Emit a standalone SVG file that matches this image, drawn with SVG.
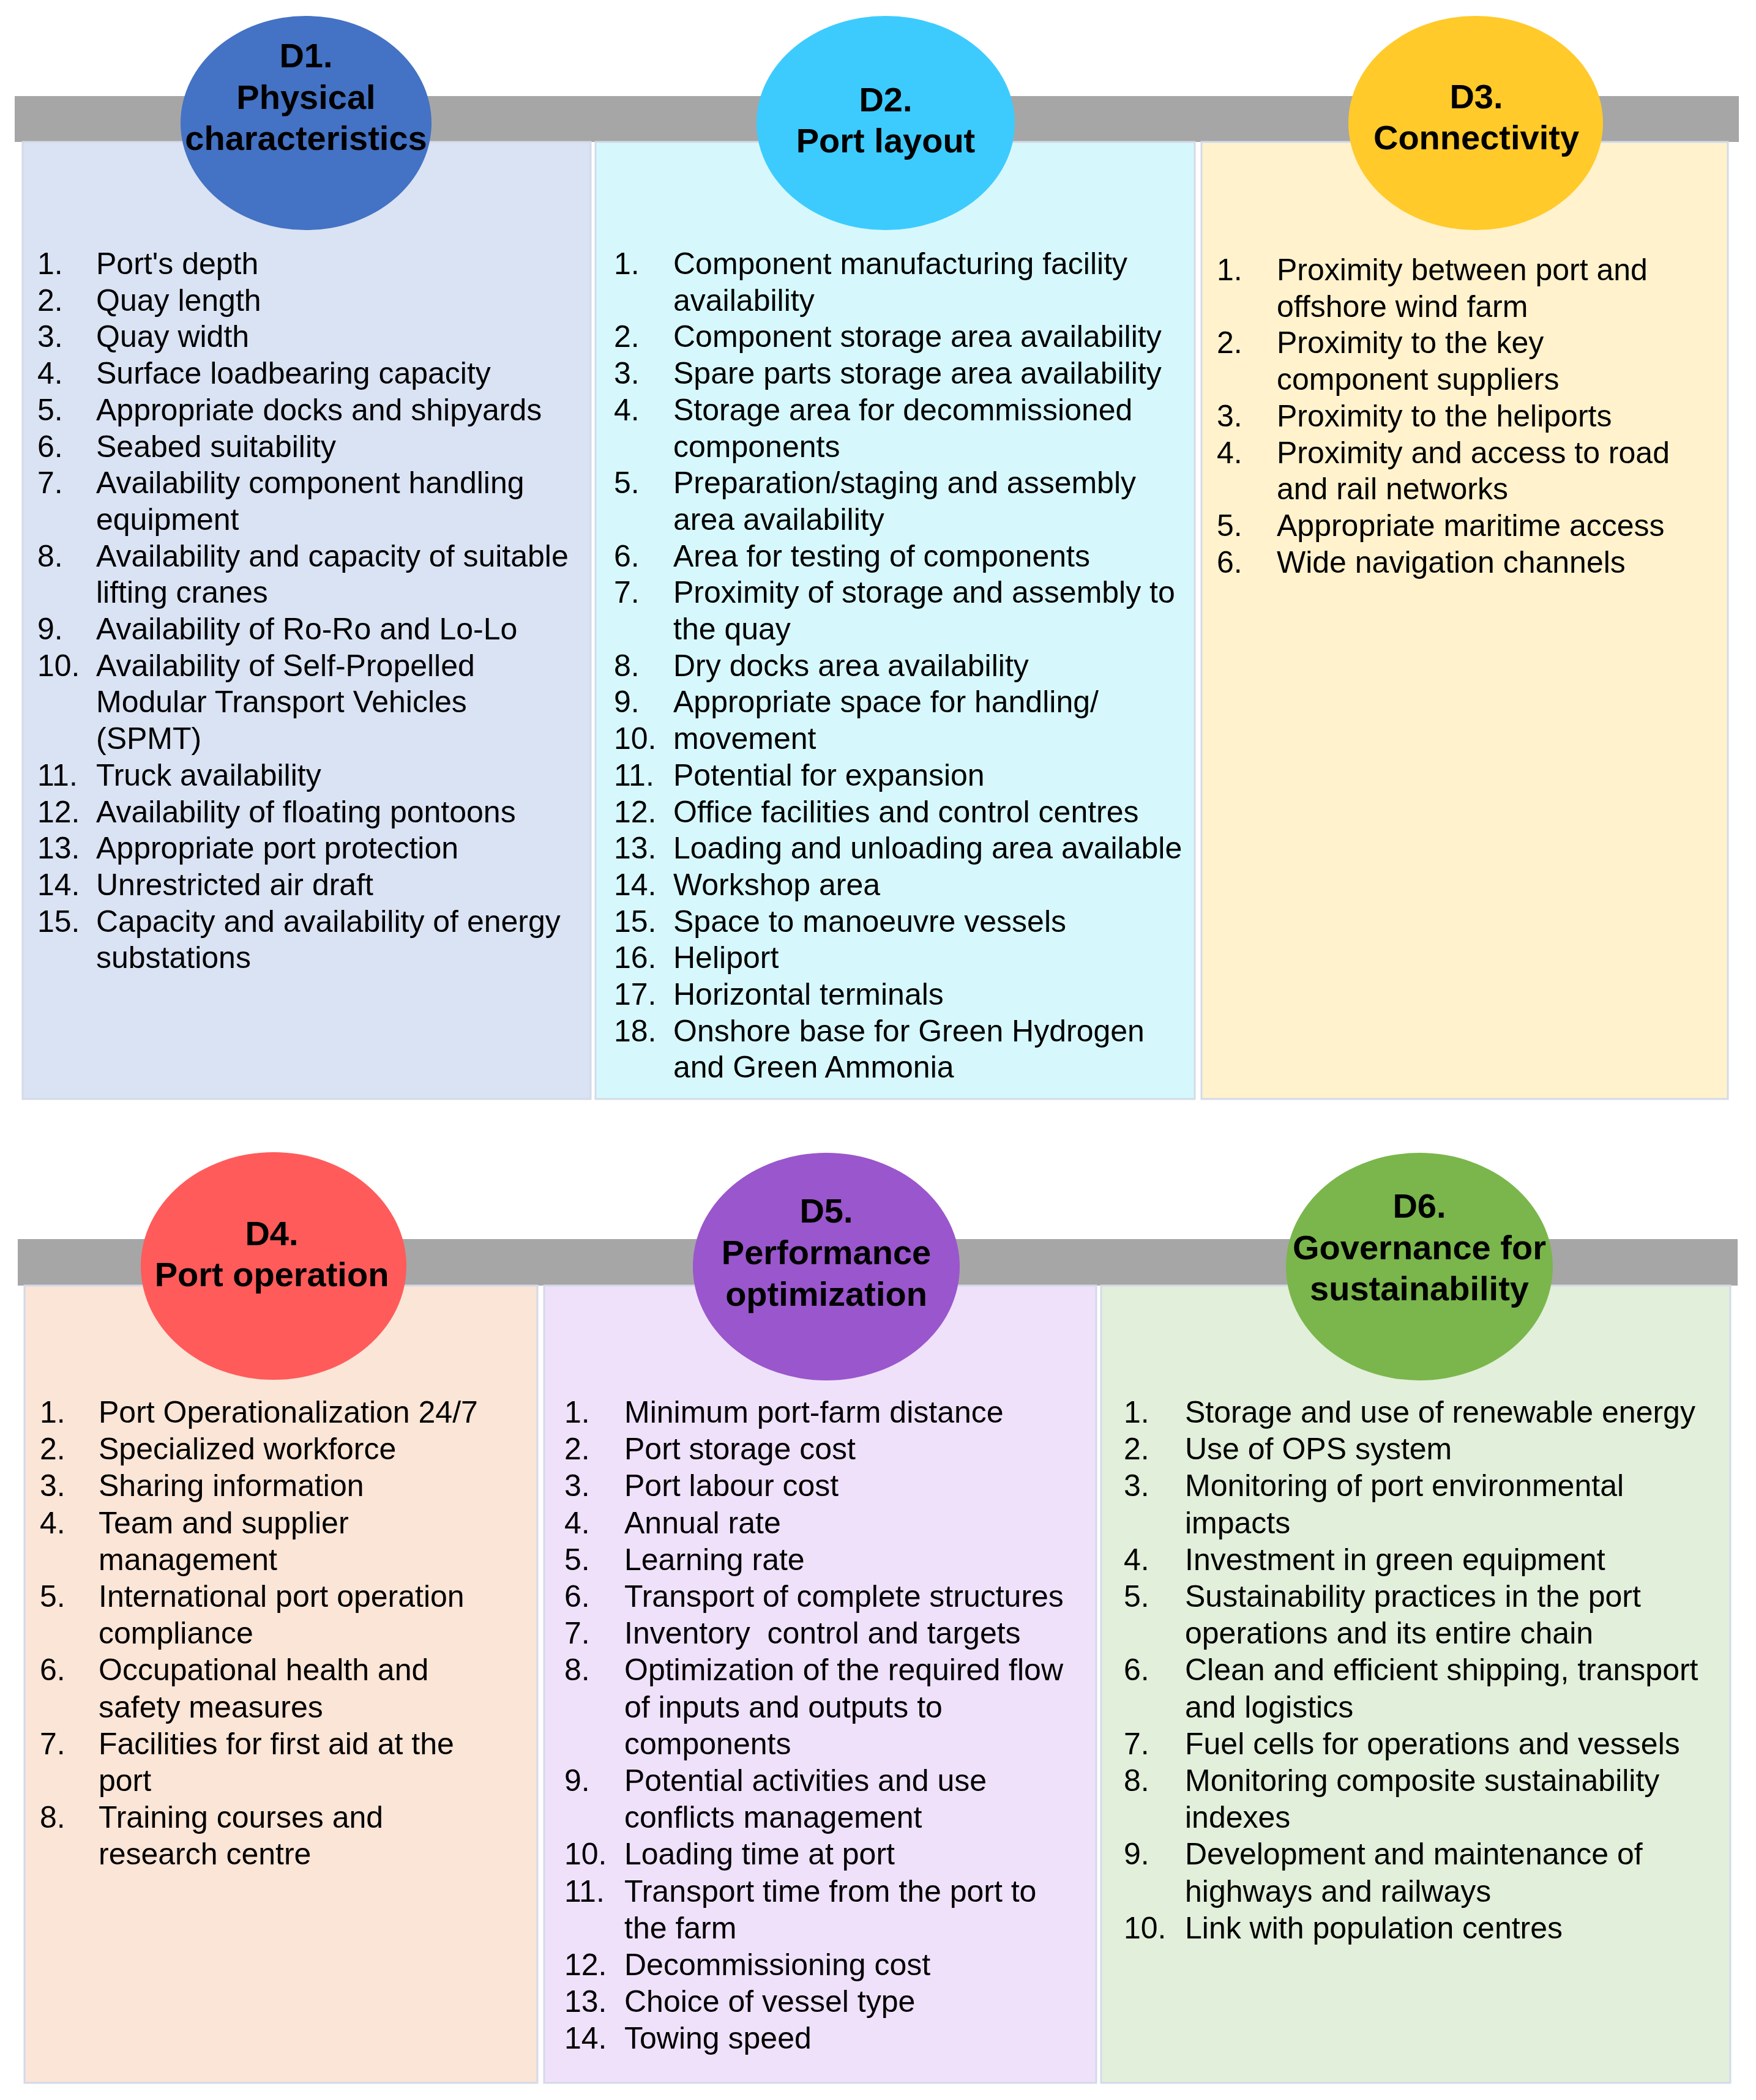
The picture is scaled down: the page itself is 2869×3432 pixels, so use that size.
<svg xmlns="http://www.w3.org/2000/svg" width="2869" height="3432" viewBox="0 0 2869 3432">
<style>
.bar{fill:#A6A6A6}
.panel{stroke:#D3DAE8;stroke-width:3}
.t{font-family:"Liberation Sans",Arial,sans-serif;font-weight:bold;font-size:56px;fill:#000;text-anchor:middle}
.i{font-family:"Liberation Sans",Arial,sans-serif;font-size:50px;fill:#000}
.pre{white-space:pre}
</style>
<rect width="2869" height="3432" fill="#FFFFFF"/>
<g id="connectors">
<rect class="bar" x="24" y="157" width="2817" height="75"/>
<rect class="bar" x="29" y="2025" width="2810" height="76"/>
</g>
<g id="d1">
<rect class="panel" x="37" y="232" width="928" height="1564" fill="#DAE3F3"/>
<ellipse cx="500" cy="201" rx="205" ry="175" fill="#4472C4"/>
<text class="t" x="500" y="110">D1.</text>
<text class="t" x="500" y="178">Physical</text>
<text class="t" x="500" y="245">characteristics</text>
<g class="i">
<text x="61" y="448">1.</text><text x="157" y="448">Port's depth</text>
<text x="61" y="508">2.</text><text x="157" y="508">Quay length</text>
<text x="61" y="567">3.</text><text x="157" y="567">Quay width</text>
<text x="61" y="627">4.</text><text x="157" y="627">Surface loadbearing capacity</text>
<text x="61" y="687">5.</text><text x="157" y="687">Appropriate docks and shipyards</text>
<text x="61" y="747">6.</text><text x="157" y="747">Seabed suitability</text>
<text x="61" y="806">7.</text><text x="157" y="806">Availability component handling</text>
<text x="157" y="866">equipment</text>
<text x="61" y="926">8.</text><text x="157" y="926">Availability and capacity of suitable</text>
<text x="157" y="985">lifting cranes</text>
<text x="61" y="1045">9.</text><text x="157" y="1045">Availability of Ro-Ro and Lo-Lo</text>
<text x="61" y="1105">10.</text><text x="157" y="1105">Availability of Self-Propelled</text>
<text x="157" y="1164">Modular Transport Vehicles</text>
<text x="157" y="1224">(SPMT)</text>
<text x="61" y="1284">11.</text><text x="157" y="1284">Truck availability</text>
<text x="61" y="1344">12.</text><text x="157" y="1344">Availability of floating pontoons</text>
<text x="61" y="1403">13.</text><text x="157" y="1403">Appropriate port protection</text>
<text x="61" y="1463">14.</text><text x="157" y="1463">Unrestricted air draft</text>
<text x="61" y="1523">15.</text><text x="157" y="1523">Capacity and availability of energy</text>
<text x="157" y="1582">substations</text>
</g>
</g>
<g id="d2">
<rect class="panel" x="973" y="232" width="979" height="1564" fill="#D6F8FC"/>
<ellipse cx="1447" cy="201" rx="211" ry="175" fill="#3DCBFE"/>
<text class="t" x="1447" y="182">D2.</text>
<text class="t" x="1447" y="249">Port layout</text>
<g class="i">
<text x="1003" y="448">1.</text><text x="1100" y="448">Component manufacturing facility</text>
<text x="1100" y="508">availability</text>
<text x="1003" y="567">2.</text><text x="1100" y="567">Component storage area availability</text>
<text x="1003" y="627">3.</text><text x="1100" y="627">Spare parts storage area availability</text>
<text x="1003" y="687">4.</text><text x="1100" y="687">Storage area for decommissioned</text>
<text x="1100" y="747">components</text>
<text x="1003" y="806">5.</text><text x="1100" y="806">Preparation/staging and assembly</text>
<text x="1100" y="866">area availability</text>
<text x="1003" y="926">6.</text><text x="1100" y="926">Area for testing of components</text>
<text x="1003" y="985">7.</text><text x="1100" y="985">Proximity of storage and assembly to</text>
<text x="1100" y="1045">the quay</text>
<text x="1003" y="1105">8.</text><text x="1100" y="1105">Dry docks area availability</text>
<text x="1003" y="1164">9.</text><text x="1100" y="1164">Appropriate space for handling/</text>
<text x="1003" y="1224">10.</text><text x="1100" y="1224">movement</text>
<text x="1003" y="1284">11.</text><text x="1100" y="1284">Potential for expansion</text>
<text x="1003" y="1344">12.</text><text x="1100" y="1344">Office facilities and control centres</text>
<text x="1003" y="1403">13.</text><text x="1100" y="1403">Loading and unloading area available</text>
<text x="1003" y="1463">14.</text><text x="1100" y="1463">Workshop area</text>
<text x="1003" y="1523">15.</text><text x="1100" y="1523">Space to manoeuvre vessels</text>
<text x="1003" y="1582">16.</text><text x="1100" y="1582">Heliport</text>
<text x="1003" y="1642">17.</text><text x="1100" y="1642">Horizontal terminals</text>
<text x="1003" y="1702">18.</text><text x="1100" y="1702">Onshore base for Green Hydrogen</text>
<text x="1100" y="1761">and Green Ammonia</text>
</g>
</g>
<g id="d3">
<rect class="panel" x="1963" y="232" width="860" height="1564" fill="#FFF2CC"/>
<ellipse cx="2411" cy="201" rx="208" ry="175" fill="#FFCA2A"/>
<text class="t" x="2412" y="177">D3.</text>
<text class="t" x="2412" y="244">Connectivity</text>
<g class="i">
<text x="1988" y="458">1.</text><text x="2086" y="458">Proximity between port and</text>
<text x="2086" y="518">offshore wind farm</text>
<text x="1988" y="577">2.</text><text x="2086" y="577">Proximity to the key</text>
<text x="2086" y="637">component suppliers</text>
<text x="1988" y="697">3.</text><text x="2086" y="697">Proximity to the heliports</text>
<text x="1988" y="757">4.</text><text x="2086" y="757">Proximity and access to road</text>
<text x="2086" y="816">and rail networks</text>
<text x="1988" y="876">5.</text><text x="2086" y="876">Appropriate maritime access</text>
<text x="1988" y="936">6.</text><text x="2086" y="936">Wide navigation channels</text>
</g>
</g>
<g id="d4">
<rect class="panel" x="40" y="2101" width="838" height="1303" fill="#FBE5D6"/>
<ellipse cx="447" cy="2069" rx="217" ry="186" fill="#FF5B5B"/>
<text class="t" x="444" y="2035">D4.</text>
<text class="t" x="444" y="2102">Port operation</text>
<g class="i">
<text x="65" y="2325">1.</text><text x="161" y="2325">Port Operationalization 24/7</text>
<text x="65" y="2385">2.</text><text x="161" y="2385">Specialized workforce</text>
<text x="65" y="2445">3.</text><text x="161" y="2445">Sharing information</text>
<text x="65" y="2506">4.</text><text x="161" y="2506">Team and supplier</text>
<text x="161" y="2566">management</text>
<text x="65" y="2626">5.</text><text x="161" y="2626">International port operation</text>
<text x="161" y="2686">compliance</text>
<text x="65" y="2746">6.</text><text x="161" y="2746">Occupational health and</text>
<text x="161" y="2807">safety measures</text>
<text x="65" y="2867">7.</text><text x="161" y="2867">Facilities for first aid at the</text>
<text x="161" y="2927">port</text>
<text x="65" y="2987">8.</text><text x="161" y="2987">Training courses and</text>
<text x="161" y="3047">research centre</text>
</g>
</g>
<g id="d5">
<rect class="panel" x="889" y="2101" width="902" height="1303" fill="#EFE1FA"/>
<ellipse cx="1350" cy="2070" rx="218" ry="186" fill="#9A56CC"/>
<text class="t" x="1350" y="1998">D5.</text>
<text class="t" x="1350" y="2066">Performance</text>
<text class="t" x="1350" y="2134">optimization</text>
<g class="i">
<text x="922" y="2325">1.</text><text x="1020" y="2325">Minimum port-farm distance</text>
<text x="922" y="2385">2.</text><text x="1020" y="2385">Port storage cost</text>
<text x="922" y="2445">3.</text><text x="1020" y="2445">Port labour cost</text>
<text x="922" y="2506">4.</text><text x="1020" y="2506">Annual rate</text>
<text x="922" y="2566">5.</text><text x="1020" y="2566">Learning rate</text>
<text x="922" y="2626">6.</text><text x="1020" y="2626">Transport of complete structures</text>
<text x="922" y="2686">7.</text><text class="pre" x="1020" y="2686">Inventory  control and targets</text>
<text x="922" y="2746">8.</text><text x="1020" y="2746">Optimization of the required flow</text>
<text x="1020" y="2807">of inputs and outputs to</text>
<text x="1020" y="2867">components</text>
<text x="922" y="2927">9.</text><text x="1020" y="2927">Potential activities and use</text>
<text x="1020" y="2987">conflicts management</text>
<text x="922" y="3047">10.</text><text x="1020" y="3047">Loading time at port</text>
<text x="922" y="3108">11.</text><text x="1020" y="3108">Transport time from the port to</text>
<text x="1020" y="3168">the farm</text>
<text x="922" y="3228">12.</text><text x="1020" y="3228">Decommissioning cost</text>
<text x="922" y="3288">13.</text><text x="1020" y="3288">Choice of vessel type</text>
<text x="922" y="3348">14.</text><text x="1020" y="3348">Towing speed</text>
</g>
</g>
<g id="d6">
<rect class="panel" x="1799" y="2101" width="1028" height="1303" fill="#E2EFDA"/>
<ellipse cx="2319" cy="2070" rx="218" ry="186" fill="#7AB64C"/>
<text class="t" x="2319" y="1990">D6.</text>
<text class="t" x="2319" y="2058">Governance for</text>
<text class="t" x="2319" y="2125">sustainability</text>
<g class="i">
<text x="1836" y="2325">1.</text><text x="1936" y="2325">Storage and use of renewable energy</text>
<text x="1836" y="2385">2.</text><text x="1936" y="2385">Use of OPS system</text>
<text x="1836" y="2445">3.</text><text x="1936" y="2445">Monitoring of port environmental</text>
<text x="1936" y="2506">impacts</text>
<text x="1836" y="2566">4.</text><text x="1936" y="2566">Investment in green equipment</text>
<text x="1836" y="2626">5.</text><text x="1936" y="2626">Sustainability practices in the port</text>
<text x="1936" y="2686">operations and its entire chain</text>
<text x="1836" y="2746">6.</text><text x="1936" y="2746">Clean and efficient shipping, transport</text>
<text x="1936" y="2807">and logistics</text>
<text x="1836" y="2867">7.</text><text x="1936" y="2867">Fuel cells for operations and vessels</text>
<text x="1836" y="2927">8.</text><text x="1936" y="2927">Monitoring composite sustainability</text>
<text x="1936" y="2987">indexes</text>
<text x="1836" y="3047">9.</text><text x="1936" y="3047">Development and maintenance of</text>
<text x="1936" y="3108">highways and railways</text>
<text x="1836" y="3168">10.</text><text x="1936" y="3168">Link with population centres</text>
</g>
</g>
</svg>
